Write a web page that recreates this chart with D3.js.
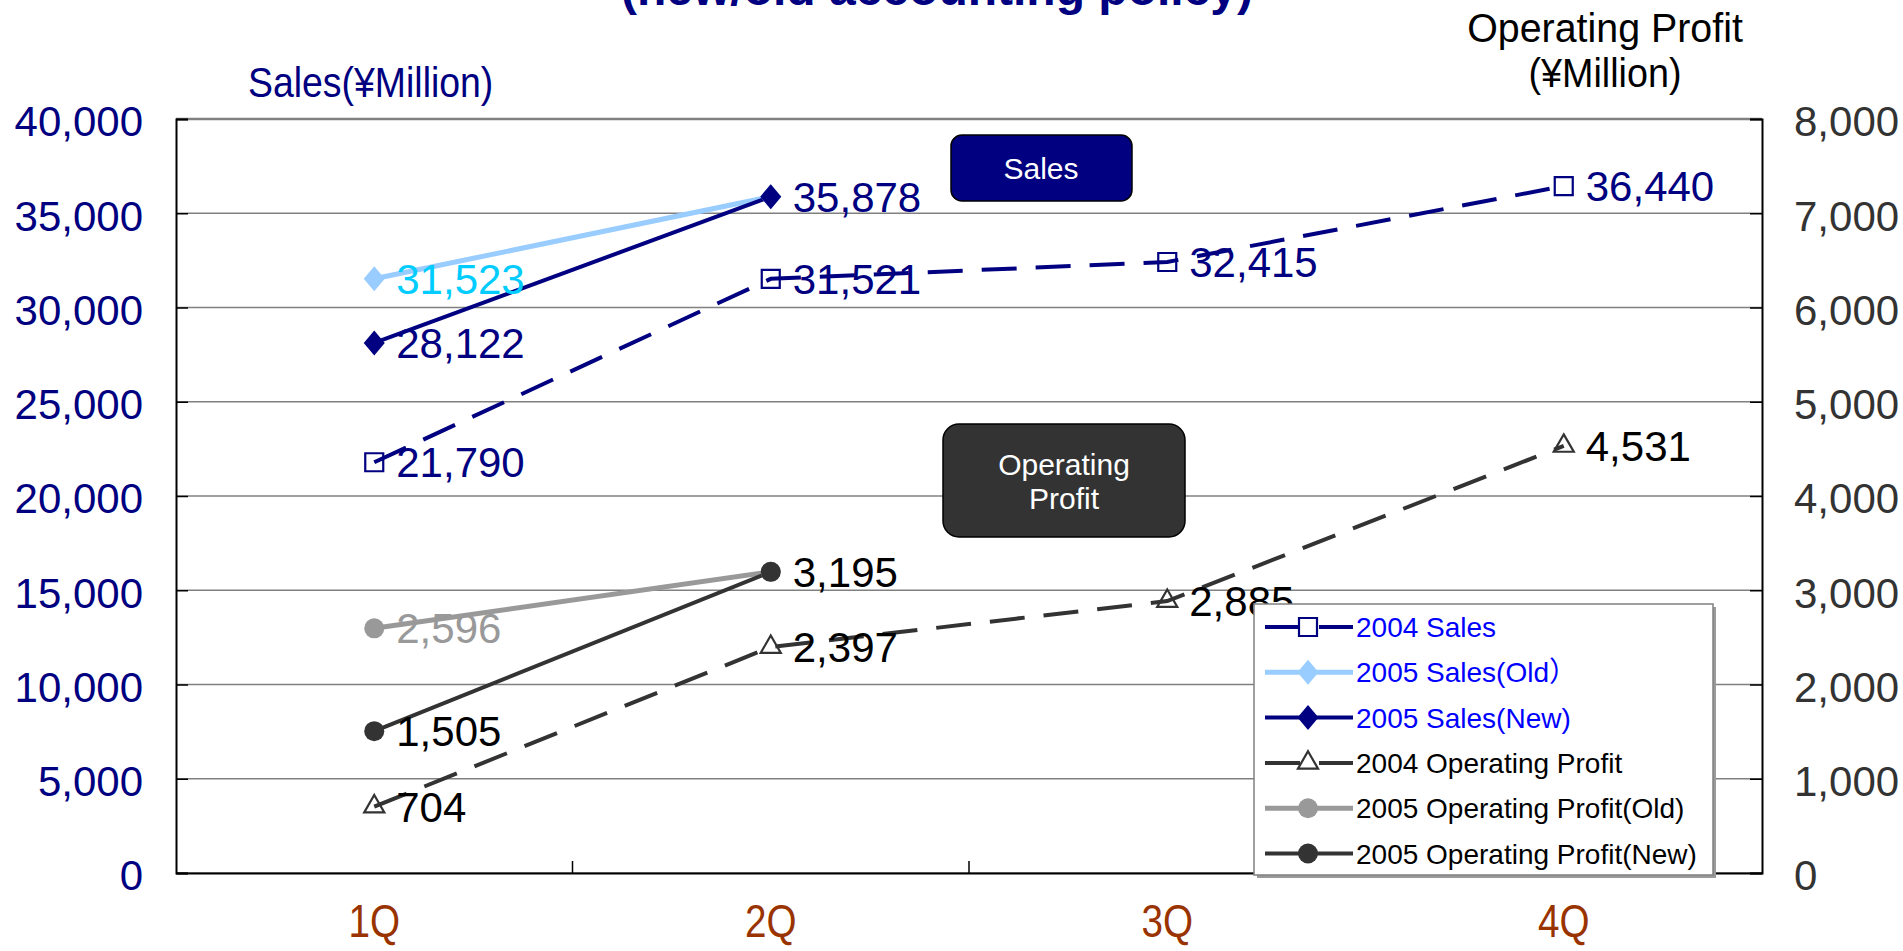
<!DOCTYPE html>
<html>
<head>
<meta charset="utf-8">
<script src="https://cdn.jsdelivr.net/npm/d3@7"></script>
<style>
  html, body { margin: 0; padding: 0; background: #fff; overflow: hidden; }
  svg { display: block; font-family: "Liberation Sans", Arial, "Noto Sans CJK JP", sans-serif; }
</style>
</head>
<body>
<svg id="chart" width="1903" height="951"></svg>
<script>
// ---------- data ----------
const quarters = ["1Q", "2Q", "3Q", "4Q"];
const sales2004 = [21790, 31521, 32415, 36440];
const sales2005Old = [31523, 35878];
const sales2005New = [28122, 35878];
const op2004 = [704, 2397, 2885, 4531];
const op2005Old = [2596, 3195];
const op2005New = [1505, 3195];
const salesTicks = [0, 5000, 10000, 15000, 20000, 25000, 30000, 35000, 40000];
const opTicks = [0, 1000, 2000, 3000, 4000, 5000, 6000, 7000, 8000];
const legendLabels = ["2004 Sales", "2005 Sales(Old\uFF09", "2005 Sales(New)", "2004 Operating Profit", "2005 Operating Profit(Old)", "2005 Operating Profit(New)"];
const titleText = "(new/old accounting policy)";
const leftAxisTitle = "Sales(\u00A5Million)";
const rightAxisTitle = ["Operating Profit", "(\u00A5Million)"];

// ---------- layout ----------
const W = 1903, H = 951;
const plot = { left: 176, right: 1762, top: 119, bottom: 873 };
const svg = d3.select("#chart");

const x = d3.scaleBand().domain(quarters).range([plot.left, plot.right]);
const xc = q => x(q) + x.bandwidth() / 2;
const yL = d3.scaleLinear().domain([0, 40000]).range([plot.bottom, plot.top]);
const yR = d3.scaleLinear().domain([0, 8000]).range([plot.bottom, plot.top]);
const fmt = d3.format(",");

function squeeze(sel, factor) {
  sel.each(function () {
    const len = this.getComputedTextLength();
    d3.select(this).attr("textLength", len * factor).attr("lengthAdjust", "spacingAndGlyphs");
  });
  return sel;
}

// ---------- gridlines ----------
svg.append("g").selectAll("line").data(salesTicks).join("line")
  .attr("x1", plot.left).attr("x2", plot.right)
  .attr("y1", d => yL(d)).attr("y2", d => yL(d))
  .attr("stroke", "#808080").attr("stroke-width", d => d === 40000 ? 2.5 : 1.5);

// ---------- axes ----------
const axL = svg.append("g").attr("transform", `translate(${plot.left},0)`)
  .call(d3.axisLeft(yL).tickValues(salesTicks).tickFormat(fmt).tickSize(-12).tickPadding(33));
const axR = svg.append("g").attr("transform", `translate(${plot.right},0)`)
  .call(d3.axisRight(yR).tickValues(opTicks).tickFormat(fmt).tickSize(-12).tickPadding(32));
const axB = svg.append("g").attr("transform", `translate(0,${plot.bottom})`)
  .call(d3.axisBottom(x).tickSize(0).tickFormat(""));
[axL, axR, axB].forEach(a => {
  a.select(".domain").attr("stroke", "#000").attr("stroke-width", 2);
  a.selectAll(".tick line").attr("stroke", "#000").attr("stroke-width", 1.5);
});
axL.selectAll(".tick text").attr("font-size", 42).attr("fill", "#000080")
  .attr("font-family", "Liberation Sans, Arial, sans-serif").attr("dy", "0.4em");
axR.selectAll(".tick text").attr("font-size", 42).attr("fill", "#333333")
  .attr("font-family", "Liberation Sans, Arial, sans-serif").attr("dy", "0.4em");

// category boundary ticks (inside, pointing up)
const bounds = quarters.slice(1).map(q => x(q));
svg.append("g").selectAll("line").data(bounds).join("line")
  .attr("x1", d => d).attr("x2", d => d)
  .attr("y1", plot.bottom).attr("y2", plot.bottom - 12)
  .attr("stroke", "#000").attr("stroke-width", 1.5);

// category labels
const catText = svg.append("g").selectAll("text").data(quarters).join("text")
  .attr("x", d => xc(d)).attr("y", 937).attr("text-anchor", "middle")
  .attr("font-size", 46).attr("fill", "#993300").text(d => d);
squeeze(catText, 0.84);

// ---------- titles ----------
svg.append("text").attr("x", 937).attr("y", 5).attr("text-anchor", "middle")
  .attr("font-size", 48).attr("font-weight", "bold").attr("fill", "#000080").text(titleText);
squeeze(svg.append("text").attr("x", 248).attr("y", 97)
  .attr("font-size", 43).attr("fill", "#000080").text(leftAxisTitle), 0.87);
squeeze(svg.append("text").attr("x", 1605).attr("y", 42).attr("text-anchor", "middle")
  .attr("font-size", 41).attr("fill", "#000").text(rightAxisTitle[0]), 0.96);
squeeze(svg.append("text").attr("x", 1605).attr("y", 87).attr("text-anchor", "middle")
  .attr("font-size", 41).attr("fill", "#000").text(rightAxisTitle[1]), 0.92);

// ---------- annotation boxes ----------
svg.append("rect").attr("x", 951).attr("y", 135).attr("width", 181).attr("height", 66)
  .attr("rx", 11).attr("fill", "#000080").attr("stroke", "#000").attr("stroke-width", 1.5);
svg.append("text").attr("x", 1041).attr("y", 179).attr("text-anchor", "middle")
  .attr("font-size", 30).attr("fill", "#fff").text("Sales");
svg.append("rect").attr("x", 943).attr("y", 424).attr("width", 242).attr("height", 113)
  .attr("rx", 16).attr("fill", "#333333").attr("stroke", "#000").attr("stroke-width", 1.5);
svg.append("text").attr("x", 1064).attr("y", 475).attr("text-anchor", "middle")
  .attr("font-size", 30).attr("fill", "#fff").text("Operating");
svg.append("text").attr("x", 1064).attr("y", 509).attr("text-anchor", "middle")
  .attr("font-size", 30).attr("fill", "#fff").text("Profit");

// ---------- series ----------
const diamond = { draw(ctx, size) { const w = 10.5, h = 12.5; ctx.moveTo(0, -h); ctx.lineTo(w, 0); ctx.lineTo(0, h); ctx.lineTo(-w, 0); ctx.closePath(); } };
const series = [
  { name: legendLabels[0], values: sales2004, y: yL, color: "#000080", width: 4, dash: "35,19", marker: "square", labelColor: "#000080", labelIdx: [0, 1, 2, 3] },
  { name: legendLabels[1], values: sales2005Old, y: yL, color: "#99CCFF", width: 5, dash: null, marker: "diamond", labelColor: "#00CCFF", labelIdx: [0] },
  { name: legendLabels[2], values: sales2005New, y: yL, color: "#000080", width: 4, dash: null, marker: "diamond", labelColor: "#000080", labelIdx: [0, 1] },
  { name: legendLabels[3], values: op2004, y: yR, color: "#333333", width: 4, dash: "35,19", marker: "triangle", labelColor: "#000", labelIdx: [0, 1, 2, 3] },
  { name: legendLabels[4], values: op2005Old, y: yR, color: "#999999", width: 5, dash: null, marker: "circle", labelColor: "#999999", labelIdx: [0] },
  { name: legendLabels[5], values: op2005New, y: yR, color: "#333333", width: 4, dash: null, marker: "circle", labelColor: "#000", labelIdx: [0, 1] },
];

function markerPath(type) {
  if (type === "square") return d3.symbol(d3.symbolSquare, 18 * 18)();
  if (type === "diamond") return d3.symbol(diamond, 1)();
  if (type === "triangle") return d3.symbol(d3.symbolTriangle, 175)();
  return d3.symbol(d3.symbolCircle, Math.PI * 10 * 10)();
}
function styleMarker(sel, s, legend) {
  const open = s.marker === "square" || s.marker === "triangle";
  sel.attr("d", markerPath(s.marker))
    .attr("fill", open ? (legend ? "#fff" : "none") : s.color)
    .attr("stroke", open ? s.color : "none")
    .attr("stroke-width", 2.2);
}

const lineG = svg.append("g");
series.forEach(s => {
  const line = d3.line().x((d, i) => xc(quarters[i])).y(d => s.y(d));
  lineG.append("path").datum(s.values).attr("d", line)
    .attr("fill", "none").attr("stroke", s.color).attr("stroke-width", s.width)
    .attr("stroke-dasharray", s.dash);
});
const markG = svg.append("g");
series.forEach(s => {
  markG.append("g").selectAll("path").data(s.values).join("path")
    .attr("transform", (d, i) => `translate(${xc(quarters[i])},${s.y(d)})`)
    .call(sel => styleMarker(sel, s, false));
});
const labG = svg.append("g");
series.forEach(s => {
  labG.append("g").selectAll("text").data(s.labelIdx).join("text")
    .attr("x", i => xc(quarters[i]) + 22).attr("y", i => s.y(s.values[i]))
    .attr("dy", "0.36em").attr("font-size", 42).attr("fill", s.labelColor)
    .text(i => fmt(s.values[i]));
});

// ---------- legend ----------
const lg = svg.append("g");
const lgBox = { x: 1254, y: 604, w: 459, h: 271 };
lg.append("rect").attr("x", lgBox.x + 3).attr("y", lgBox.y + 3).attr("width", lgBox.w).attr("height", lgBox.h).attr("fill", "#9a9a9a");
lg.append("rect").attr("x", lgBox.x).attr("y", lgBox.y).attr("width", lgBox.w).attr("height", lgBox.h)
  .attr("fill", "#fff").attr("stroke", "#808080").attr("stroke-width", 1.5);
series.forEach((s, i) => {
  const cy = 627 + i * 45.3;
  lg.append("line").attr("x1", 1265).attr("x2", 1353).attr("y1", cy).attr("y2", cy)
    .attr("stroke", s.color).attr("stroke-width", s.width).attr("stroke-dasharray", s.dash);
  lg.append("path").attr("transform", `translate(1308,${cy})`).call(sel => styleMarker(sel, s, true));
  lg.append("text").attr("x", 1356).attr("y", cy).attr("dy", "0.36em").attr("font-size", 28)
    .attr("fill", i < 3 ? "#0000FF" : "#000").text(s.name);
});
</script>
</body>
</html>
